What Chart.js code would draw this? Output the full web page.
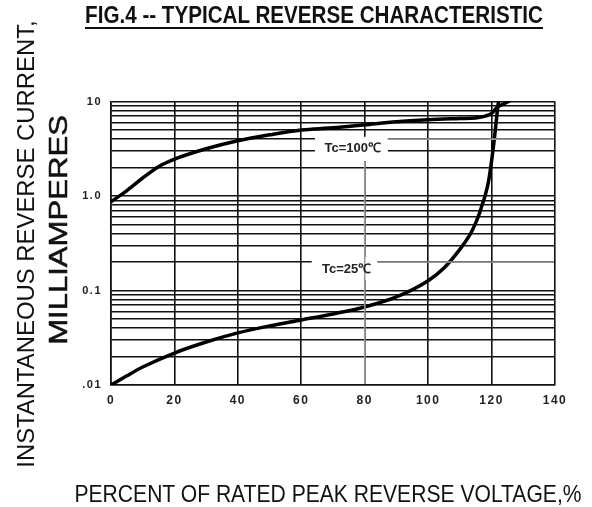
<!DOCTYPE html>
<html><head><meta charset="utf-8">
<script src="https://cdn.jsdelivr.net/npm/chart.js@4.4.1/dist/chart.umd.min.js"></script>
<style>
html,body{margin:0;padding:0;background:#fff;}
#wrap{position:relative;width:592px;height:507px;overflow:hidden;font-family:"Liberation Sans",Arial,sans-serif;}
#c{position:absolute;left:0;top:0;}
.t{position:absolute;white-space:nowrap;color:#111;line-height:1;transform-origin:50% 50%;}
#uline{position:absolute;left:85px;top:27px;width:458px;height:2px;background:#111;}
</style></head><body>
<div id="wrap">
<canvas id="c" width="592" height="507"></canvas>
<div class="t" id="title" style="font-weight:bold;font-size:23px;">FIG.4 -- TYPICAL REVERSE CHARACTERISTIC</div>
<div id="uline"></div>
<div class="t" id="yt1" style="font-size:23.5px;">INSTANTANEOUS REVERSE CURRENT,</div>
<div class="t" id="yt2" style="font-size:25px;-webkit-text-stroke:0.5px #111;">MILLIAMPERES</div>
<div class="t" id="xt" style="font-size:24px;">PERCENT OF RATED PEAK REVERSE VOLTAGE,%</div>
</div>
<script>
// ---- data ----
const xTickValues = [0, 20, 40, 60, 80, 100, 120, 140];
const yMajorValues = [0.01, 0.1, 1, 10];
const yMajorLabels = ['.01', '0.1', '1.0', '10'];

const voltage100 = [0, 5, 10, 15, 20, 30, 40, 50, 60, 70, 80, 90, 100, 110, 115, 118, 120, 122, 124, 126];
const current100 = [0.87, 1.14, 1.55, 2.04, 2.45, 3.16, 3.84, 4.44, 5.0, 5.26, 5.66, 6.1, 6.4, 6.6, 6.7, 7.0, 7.5, 8.8, 9.5, 10.3];

const voltage25 = [0, 5, 10, 20, 30, 40, 50, 60, 70, 80, 90, 100, 105, 110, 113, 114, 115, 116, 117, 118, 119, 120, 121, 122, 122.5];
const current25 = [0.01, 0.0125, 0.0155, 0.0218, 0.0285, 0.0356, 0.0422, 0.0488, 0.0565, 0.067, 0.0855, 0.127, 0.173, 0.272, 0.38, 0.44, 0.52, 0.63, 0.8, 1.02, 1.4, 2.35, 4.4, 9.0, 12];

const curveLabels = ['Tc=100℃', 'Tc=25℃'];

// ---- text placement helper ----
function place(id, cx, cy, w, rot) {
  const el = document.getElementById(id);
  const s = w / el.offsetWidth;
  el.style.left = cx + 'px';
  el.style.top = cy + 'px';
  el.style.transform = 'translate(-50%,-50%) rotate(' + rot + 'deg) scaleX(' + s + ')';
}
place('title', 314, 15, 458, 0);
place('yt1', 27, 243.5, 447, -90);
place('yt2', 58, 230, 230, -90);
place('xt', 328, 494, 507, 0);

const toPts = (xs, ys) => xs.map((v, i) => ({x: v, y: ys[i]}));

const gridVals = [];
for (let d = 0; d < yMajorValues.length - 1; d++) {
  for (let k = 1; k <= 9; k++) gridVals.push(+(yMajorValues[d] * k).toPrecision(3));
}
gridVals.push(yMajorValues[yMajorValues.length - 1]);

const labelPlugin = {
  id: 'curveLabels',
  beforeDraw(chart) { chart.ctx.letterSpacing = '1.5px'; },
  afterDraw(chart) {
    const {ctx, scales: {x, y}, chartArea: a} = chart;
    ctx.save();
    ctx.letterSpacing = '0px';
    const boxes = [
      {l: 64.3, r: 87.3, t: 4.23, b: 2.35, tx: 76.2, ty: 3.15, text: curveLabels[0], lead: 4},
      {l: 63.3, r: 84.0, t: 0.2265, b: 0.129, tx: 74.3, ty: 0.169, text: curveLabels[1], lead: 0.2}
    ];
    boxes.forEach(b => {
      const L = x.getPixelForValue(b.l), R = x.getPixelForValue(b.r);
      const T = y.getPixelForValue(b.t), B = y.getPixelForValue(b.b);
      ctx.fillStyle = '#fff';
      ctx.fillRect(L, T, R - L, B - T);
      b.px = {L, R, T, B};
    });
    ctx.strokeStyle = '#9a9a9a';
    ctx.lineWidth = 1.6;
    const x80 = x.getPixelForValue(80);
    ctx.beginPath();
    ctx.moveTo(x80, boxes[0].px.B); ctx.lineTo(x80, a.bottom - 1);
    boxes.forEach(b => {
      const yy = y.getPixelForValue(b.lead);
      ctx.moveTo(b.px.R, yy); ctx.lineTo(a.right - 1, yy);
    });
    ctx.stroke();
    ctx.fillStyle = '#222';
    ctx.font = 'bold 13px "Liberation Sans", Arial, sans-serif';
    ctx.textAlign = 'center';
    ctx.textBaseline = 'middle';
    boxes.forEach(b => {
      ctx.fillText(b.text, x.getPixelForValue(b.tx), y.getPixelForValue(b.ty));
    });
    ctx.restore();
  }
};

new Chart(document.getElementById('c'), {
  type: 'line',
  data: {
    datasets: [
      {data: toPts(voltage100, current100), borderColor: '#000', borderWidth: 3.5, pointRadius: 0, cubicInterpolationMode: 'monotone', fill: false},
      {data: toPts(voltage25, current25), borderColor: '#000', borderWidth: 3.5, pointRadius: 0, cubicInterpolationMode: 'monotone', fill: false}
    ]
  },
  options: {
    responsive: false,
    animation: false,
    devicePixelRatio: 1,
    layout: {padding: {left: 0, right: 37, top: 101.5, bottom: 92}},
    plugins: {legend: {display: false}, tooltip: {enabled: false}, title: {display: false}},
    scales: {
      x: {
        type: 'linear', min: 0, max: 140,
        afterFit: s => { s.height = 30; },
        afterBuildTicks: s => { s.ticks = xTickValues.map(v => ({value: v})); },
        grid: {color: '#111', lineWidth: 1.6, drawTicks: false},
        border: {color: '#111', width: 1.6},
        ticks: {padding: 8, color: '#222', font: {family: '"Liberation Sans", Arial, sans-serif', size: 12, weight: 'bold'}, maxRotation: 0, autoSkip: false}
      },
      y: {
        type: 'logarithmic', min: 0.01, max: 10,
        afterFit: s => { s.width = 111; },
        afterBuildTicks: s => { s.ticks = gridVals.map(v => ({value: v, major: yMajorValues.includes(v)})); },
        grid: {color: '#111', lineWidth: 1.6, drawTicks: false},
        border: {color: '#111', width: 1.6},
        ticks: {
          padding: 9, color: '#222', autoSkip: false,
          font: {family: '"Liberation Sans", Arial, sans-serif', size: 11, weight: 'bold'},
          callback: v => { const i = yMajorValues.findIndex(m => Math.abs(m - v) < 1e-9); return i >= 0 ? yMajorLabels[i] : ''; }
        }
      }
    }
  },
  plugins: [labelPlugin]
});
</script>
</body></html>
